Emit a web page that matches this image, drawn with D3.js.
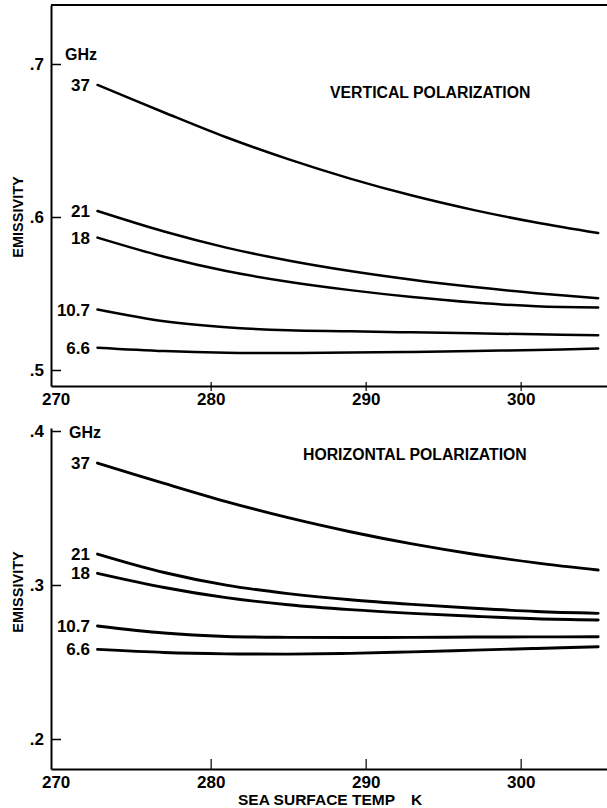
<!DOCTYPE html>
<html>
<head>
<meta charset="utf-8">
<script src="https://cdn.jsdelivr.net/npm/d3@7"></script>
<style>
  html, body { margin: 0; padding: 0; background: #fff; }
  svg { display: block; }
  text { font-family: "Liberation Sans", Arial, Helvetica, sans-serif; font-weight: bold; fill: #000; }
</style>
</head>
<body>
<svg id="chart" width="607" height="808"></svg>
<script>
// ---- data ----
const temps = [272.7, 277, 281, 285, 289, 293, 297, 301, 305];          // sea surface temp, K
const freqLabels = ["37", "21", "18", "10.7", "6.6"];                     // GHz
const xTicks = [270, 280, 290, 300];

// vertical polarization emissivity
const v37  = [0.6863, 0.6683, 0.6521, 0.6378, 0.6251, 0.6140, 0.6045, 0.5964, 0.5895];
const v21  = [0.6039, 0.5905, 0.5800, 0.5716, 0.5647, 0.5590, 0.5542, 0.5502, 0.5469];
const v18  = [0.5865, 0.5740, 0.5647, 0.5577, 0.5522, 0.5477, 0.5441, 0.5416, 0.5408];
const v107 = [0.5395, 0.5318, 0.5279, 0.5259, 0.5253, 0.5246, 0.5240, 0.5233, 0.5227];
const v66  = [0.5146, 0.5124, 0.5113, 0.5111, 0.5114, 0.5118, 0.5124, 0.5131, 0.5140];
const vTicks = [0.5, 0.6, 0.7];

// horizontal polarization emissivity
const h37  = [0.3792, 0.3660, 0.3542, 0.3437, 0.3346, 0.3267, 0.3200, 0.3144, 0.3097];
const h21  = [0.3201, 0.3081, 0.2999, 0.2944, 0.2904, 0.2874, 0.2849, 0.2828, 0.2816];
const h18  = [0.3076, 0.2984, 0.2918, 0.2872, 0.2840, 0.2816, 0.2797, 0.2781, 0.2773];
const h107 = [0.2734, 0.2688, 0.2666, 0.2660, 0.2659, 0.2660, 0.2662, 0.2663, 0.2664];
const h66  = [0.2582, 0.2562, 0.2553, 0.2551, 0.2556, 0.2566, 0.2577, 0.2588, 0.2599];
const hTicks = [0.2, 0.3, 0.4];

// ---- drawing ----
const svg = d3.select("#chart");
const x = d3.scaleLinear().domain([269.7, 305.57]).range([51, 607]);
const fmtY = d => d3.format(".1f")(d).replace(/^0/, "");

function panel(cfg) {
  const y = d3.scaleLinear().domain(cfg.yDomain).range(cfg.yRange);
  const g = svg.append("g");

  // x axis
  const xa = g.append("g")
    .attr("transform", `translate(0,${cfg.yRange[0]})`)
    .call(d3.axisBottom(x).tickValues(xTicks).tickFormat(d3.format("d"))
      .tickSizeOuter(0).tickSizeInner(cfg.xTickIn ? -10 : 5).tickPadding(cfg.xTickIn ? 7 : 2));
  xa.select(".domain").attr("stroke-width", 2);
  xa.selectAll(".tick line").attr("stroke-width", 1.2);
  if (!cfg.xTickIn) xa.selectAll(".tick line").attr("y1", -4);
  xa.selectAll(".tick text").attr("font-size", 17).attr("font-family", null);
  xa.selectAll(".tick").filter(d => d === 270).select("line").remove();

  // y axis
  const ya = g.append("g")
    .attr("transform", "translate(51,0)")
    .call(d3.axisLeft(y).tickValues(cfg.yTicks).tickFormat(fmtY)
      .tickSizeOuter(0).tickSizeInner(-10).tickPadding(7));
  ya.select(".domain").attr("stroke-width", 2);
  ya.selectAll(".tick line").attr("stroke-width", 1.5);
  ya.selectAll(".tick text").attr("font-size", 17).attr("font-family", null);

  if (cfg.topBorder) {
    g.append("line").attr("x1", 51).attr("x2", 607)
      .attr("y1", cfg.yRange[1]).attr("y2", cfg.yRange[1])
      .attr("stroke", "#000").attr("stroke-width", 2);
  }

  // y title
  g.append("text")
    .attr("transform", `translate(18,${cfg.yTitleY}) rotate(-90)`)
    .attr("text-anchor", "middle").attr("dy", "0.35em")
    .attr("font-size", 14.5).text("EMISSIVITY");

  // panel title
  g.append("text").attr("x", cfg.titleX).attr("y", cfg.titleY).attr("dy", "0.35em")
    .attr("font-size", 15.8).text(cfg.title);

  // GHz label
  g.append("text").attr("x", cfg.ghzX).attr("y", cfg.ghzY).attr("dy", "0.35em")
    .attr("font-size", 16).text("GHz");

  const line = d3.line().x((d, i) => x(temps[i])).y(d => y(d)).curve(d3.curveCatmullRom.alpha(0.5));
  cfg.series.forEach((s, k) => {
    g.append("path").datum(s).attr("d", line)
      .attr("fill", "none").attr("stroke", "#000").attr("stroke-width", cfg.lw)
      .attr("stroke-linecap", "round");
    g.append("text").attr("x", 90).attr("y", y(s[0])).attr("dy", "0.35em")
      .attr("text-anchor", "end").attr("font-size", 17).text(freqLabels[k]);
  });
}

panel({
  yDomain: [0.48954, 0.73856], yRange: [386, 5], yTicks: vTicks,
  series: [v37, v21, v18, v107, v66], topBorder: true, xTickIn: false, lw: 2.5,
  title: "VERTICAL POLARIZATION", titleX: 330, titleY: 92,
  ghzX: 65, ghzY: 54, yTitleY: 217
});

panel({
  yDomain: [0.18052, 0.40195], yRange: [769, 428], yTicks: hTicks,
  series: [h37, h21, h18, h107, h66], topBorder: false, xTickIn: true, lw: 2.9,
  title: "HORIZONTAL POLARIZATION", titleX: 303, titleY: 454,
  ghzX: 69, ghzY: 432, yTitleY: 592
});

// x title
svg.append("text").attr("x", 238).attr("y", 800).attr("dy", "0.35em")
  .attr("font-size", 15.5)
  .text("SEA SURFACE TEMP")
  .append("tspan").attr("dx", 16).text("K");
</script>
</body>
</html>
